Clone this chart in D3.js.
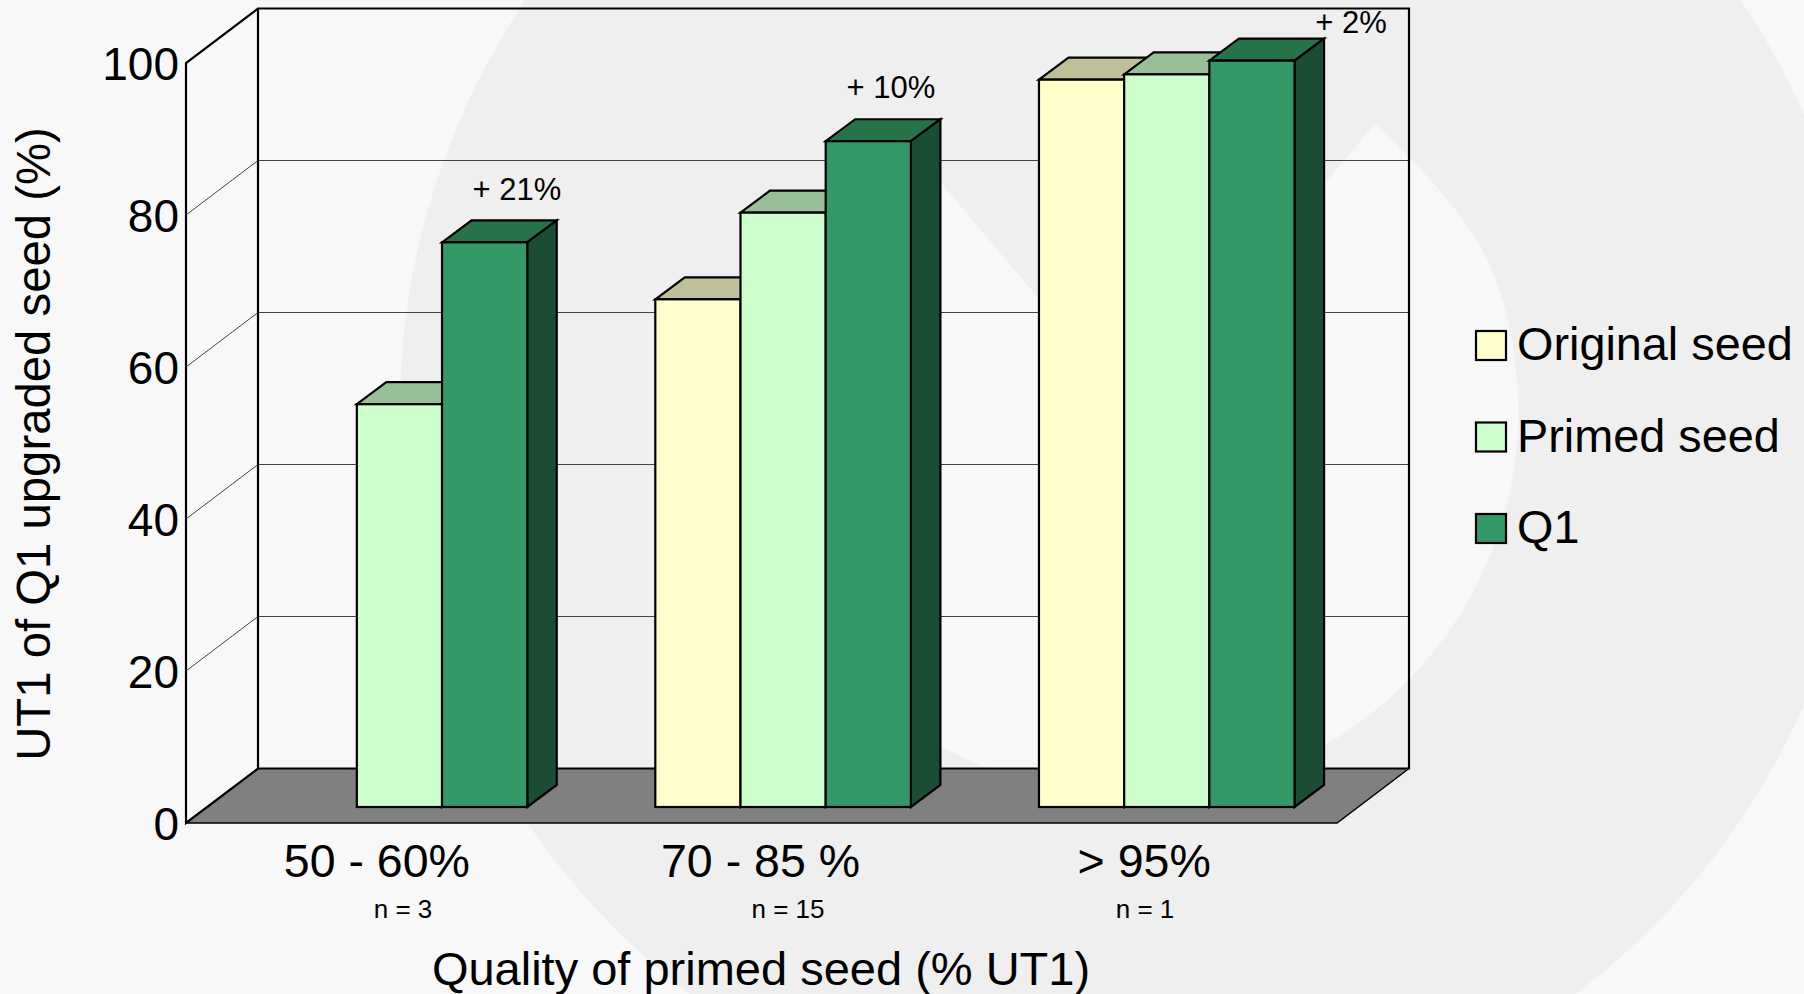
<!DOCTYPE html>
<html>
<head>
<meta charset="utf-8">
<title>UT1 of Q1 upgraded seed</title>
<script src="https://cdn.jsdelivr.net/npm/d3@7/dist/d3.min.js"></script>
<style>
  html, body { margin: 0; padding: 0; background: #f8f8f8; overflow: hidden; }
  svg { display: block; font-family: "Liberation Sans", Arial, sans-serif; fill: #000; }
</style>
</head>
<body>
<svg id="chart" width="1804" height="994"></svg>
<script>
// Chart values
const categories = ["50 - 60%", "70 - 85 %", "> 95%"];
const sampleCounts = ["n = 3", "n = 15", "n = 1"];
const gains = ["+ 21%", "+ 10%", "+ 2%"];
const seriesNames = ["Original seed", "Primed seed", "Q1"];
const originalSeed = [null, 66.8, 95.7];
const primedSeed = [53.0, 78.2, 96.4];
const q1Seed = [74.3, 87.6, 98.2];
const yTicks = [0, 20, 40, 60, 80, 100];

// Fill colours: front, top (shaded), side (darker)
const frontColors = ["#ffffcc", "#ccffcc", "#339966"];
const topColors = ["#bfbf99", "#99bf99", "#267349"];
const sideColor = "#1a4d33";

const svg = d3.select("#chart");

// Backdrop emblem: large disc with a lighter inner lobe, notched from its centre
const backdrop = svg.append("g");
backdrop.append("rect").attr("width", 1804).attr("height", 994).attr("fill", "#f8f8f8");
backdrop.append("circle").attr("cx", 1133).attr("cy", 410).attr("r", 733).attr("fill", "#efefef");
backdrop.append("path")
  .attr("fill", "#f8f8f8")
  .attr("d", "M1133,410L1375,124Q1471,214 1493,273A386,386 0 1 1 786,240L891,124Z");

// Plot geometry: front plane of the box plus the depth offset to its back wall
const frontLeft = 186, frontRight = 1337, frontBottom = 823, frontTop = 63;
const depthX = 72, depthY = -54.5;
const barOffsetX = 21.6, barOffsetY = -16, barDepthX = 29.5, barDepthY = -22, barWidth = 85.2;

const x = d3.scaleBand().domain(categories).range([frontLeft, frontRight]);
const y = d3.scaleLinear().domain([0, 100]).range([frontBottom, frontTop]);
const slot = d3.scaleBand().domain(seriesNames).range([-1.5 * barWidth, 1.5 * barWidth]);

// Floor
svg.append("polygon")
  .attr("points", [
    [frontLeft, y(0)], [frontRight, y(0)],
    [frontRight + depthX, y(0) + depthY], [frontLeft + depthX, y(0) + depthY]
  ].join(" "))
  .attr("fill", "#808080");

// Gridlines on the back wall and left wall
const grid = svg.append("g").attr("stroke-width", 1).attr("fill", "none");
yTicks.filter(t => t > 0 && t < 100).forEach(t => {
  grid.append("path").attr("d", `M${frontLeft},${y(t)}L${frontLeft + depthX},${y(t) + depthY}L${frontRight + depthX},${y(t) + depthY}`)
    .attr("stroke", "#444");
});

// Box outline
const box = svg.append("g").attr("stroke", "#000").attr("fill", "none");
box.append("path").attr("stroke-width", 2.2).attr("d",
  `M${frontLeft},${y(0)}L${frontLeft},${y(100)}L${frontLeft + depthX},${y(100) + depthY}` +
  `L${frontRight + depthX},${y(100) + depthY}L${frontRight + depthX},${y(0) + depthY}` +
  `L${frontLeft + depthX},${y(0) + depthY}Z`);
box.append("path").attr("stroke-width", 2.2).attr("d", `M${frontLeft + depthX},${y(100) + depthY}V${y(0) + depthY}`);
box.append("path").attr("stroke-width", 1.5).attr("d",
  `M${frontLeft},${y(0)}H${frontRight}L${frontRight + depthX},${y(0) + depthY}`);

// Bars, drawn left to right so each front face covers its neighbour's top and side
const seriesValues = [originalSeed, primedSeed, q1Seed];
const bars = svg.append("g").attr("stroke", "#000").attr("stroke-width", 2.2).attr("stroke-linejoin", "miter");
categories.forEach((cat, c) => {
  seriesNames.forEach((name, s) => {
    const v = seriesValues[s][c];
    if (v === null) return;
    const x0 = x(cat) + x.bandwidth() / 2 + barOffsetX + slot(name);
    const x1 = x0 + slot.bandwidth();
    const yTop = y(v) + barOffsetY;
    const yBase = y(0) + barOffsetY;
    bars.append("polygon").attr("fill", topColors[s]).attr("points", [
      [x0, yTop], [x1, yTop], [x1 + barDepthX, yTop + barDepthY], [x0 + barDepthX, yTop + barDepthY]
    ].join(" "));
    bars.append("polygon").attr("fill", sideColor).attr("points", [
      [x1, yTop], [x1 + barDepthX, yTop + barDepthY], [x1 + barDepthX, yBase + barDepthY], [x1, yBase]
    ].join(" "));
    bars.append("rect").attr("fill", frontColors[s])
      .attr("x", x0).attr("y", yTop).attr("width", x1 - x0).attr("height", yBase - yTop);
  });
});

// Value axis
const yAxis = svg.append("g")
  .attr("transform", `translate(${frontLeft},0)`)
  .call(d3.axisLeft(y).tickValues(yTicks).tickSize(0).tickPadding(7));
yAxis.select(".domain").remove();
yAxis.selectAll("text").attr("font-size", 46).attr("font-family", "Liberation Sans").attr("dy", "0.36em").attr("fill", "#000");

// Category axis
const xAxis = svg.append("g")
  .attr("transform", `translate(-1,${frontBottom})`)
  .call(d3.axisBottom(x).tickSize(0));
xAxis.select(".domain").remove();
xAxis.selectAll("text").attr("font-size", 46.5).attr("font-family", "Liberation Sans").attr("y", 54).attr("dy", 0).attr("fill", "#000");

// Sample sizes below each category
const countX = [403, 788, 1145];
svg.append("g").selectAll("text").data(sampleCounts).join("text")
  .attr("x", (d, i) => countX[i]).attr("y", 917.5)
  .attr("text-anchor", "middle").attr("font-size", 26).text(d => d);

// Gain labels above the Q1 bars
const gainX = [517, 891, 1351];
const gainLift = [20, 21, 6];
svg.append("g").selectAll("text").data(gains).join("text")
  .attr("x", (d, i) => gainX[i])
  .attr("y", (d, i) => y(q1Seed[i]) + barOffsetY + barDepthY - gainLift[i])
  .attr("text-anchor", "middle").attr("font-size", 31).text(d => d);

// Axis titles
svg.append("text").attr("x", 761).attr("y", 985).attr("text-anchor", "middle").attr("font-size", 47)
  .text("Quality of primed seed (% UT1)");
svg.append("text").attr("transform", "translate(50,444) rotate(-90)").attr("text-anchor", "middle").attr("font-size", 47.3)
  .text("UT1 of Q1 upgraded seed (%)");

// Legend
const legendY = d3.scalePoint().domain(seriesNames).range([331, 514]);
const legend = svg.append("g").selectAll("g").data(seriesNames).join("g")
  .attr("transform", d => `translate(1476,${legendY(d)})`);
legend.append("rect").attr("width", 30).attr("height", 29)
  .attr("fill", (d, i) => frontColors[i]).attr("stroke", "#000").attr("stroke-width", 2.2);
legend.append("text").attr("x", 41).attr("y", 29).attr("font-size", 46.8).text(d => d);
</script>
</body>
</html>
